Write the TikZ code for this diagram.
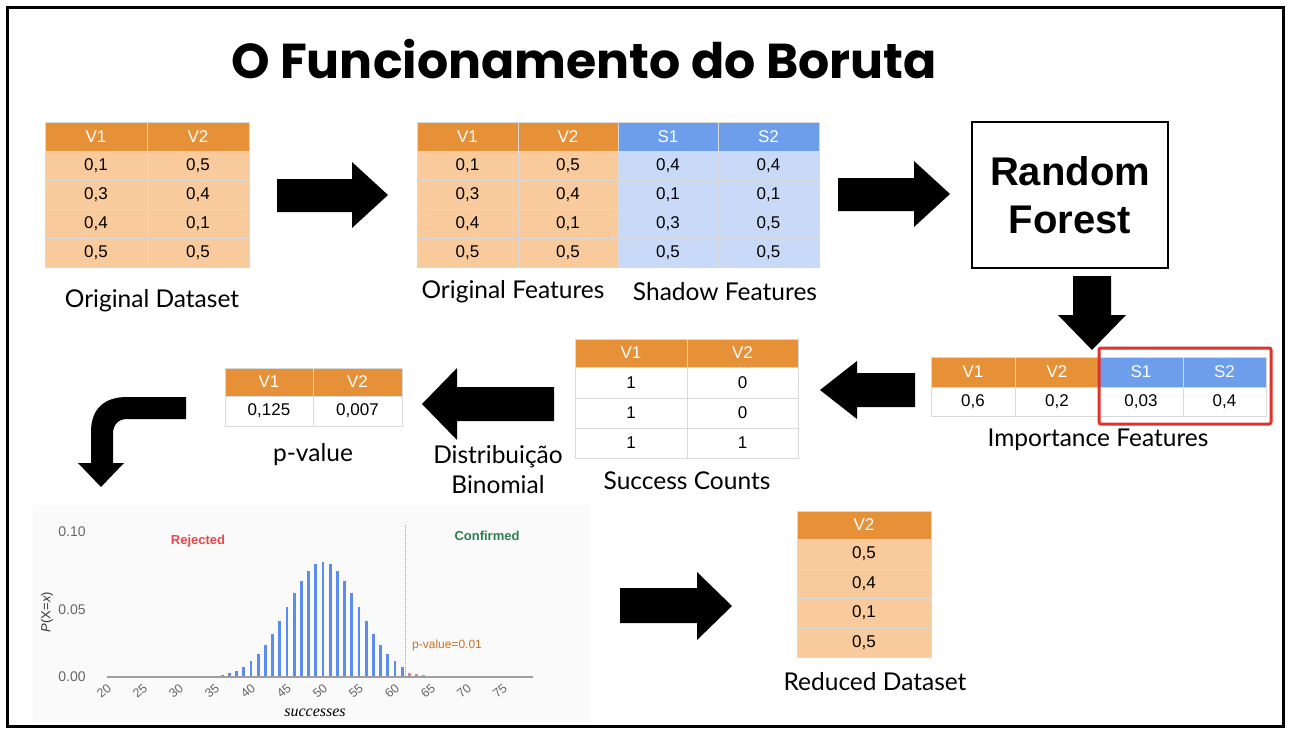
\documentclass[tikz,border=0pt]{standalone}
\usepackage{fontspec}
\setmainfont{Lato}
\newfontfamily\arialf{Liberation Sans}
\newfontfamily\seriff{Liberation Serif}
\newfontfamily\titlef{Poppins}
\definecolor{hdrorange}{HTML}{E69138}
\definecolor{bodyorange}{HTML}{F9CB9C}
\definecolor{hdrblue}{HTML}{6D9EEB}
\definecolor{bodyblue}{HTML}{C9DAF8}
\definecolor{gridc}{HTML}{D9D9D9}
\definecolor{barblue}{HTML}{5B8DEE}
\definecolor{redbox}{HTML}{E0312B}
\definecolor{rejred}{HTML}{E8484A}
\definecolor{confgreen}{HTML}{2E7D4F}
\definecolor{pvorange}{HTML}{C8742A}
\definecolor{axisgray}{HTML}{666666}
\newcommand\tcell[7]{\node[#6, minimum width={(#4-#2)*1pt}, minimum height={(#5-#3)*1pt}] (#1) at ({(#2+#4)/2},{(#3+#5)/2}) {#7};}
\begin{document}
\begin{tikzpicture}[x=1pt,y=-1pt,
  cell/.style={draw=gridc, line width=1pt, inner sep=0pt, outer sep=0pt, font=\arialf\fontsize{17}{19}\selectfont},
  ohead/.style={cell, fill=hdrorange, text=white},
  obody/.style={cell, fill=bodyorange},
  bhead/.style={cell, fill=hdrblue, text=white},
  bbody/.style={cell, fill=bodyblue},
  wbody/.style={cell, fill=white},
  lbl/.style={font=\fontsize{24.5}{30}\selectfont, inner sep=0pt},
  blockarrow/.style={fill=black},
  ticklbl/.style={font=\arialf\fontsize{12.5}{14}\selectfont, text=axisgray, rotate=40, inner sep=0pt},
  ylbl/.style={font=\arialf\fontsize{14}{16}\selectfont, text=axisgray, inner sep=0pt}]
\useasboundingbox (0,0) rectangle (1291,731);
\fill[white] (0,0) rectangle (1291,731);
\draw[line width=3pt] (7,7) rectangle (1283,726);

% title
\node[font=\titlef\bfseries\fontsize{49}{56}\selectfont, inner sep=0pt] (title) at (584,59) {O Funcionamento do Boruta};

% table 1 : original dataset
\tcell{a00}{45}{122}{147}{151}{ohead}{V1}
\tcell{a01}{147}{122}{249}{151}{ohead}{V2}
\tcell{a10}{45}{151}{147}{180}{obody}{0,1}
\tcell{a11}{147}{151}{249}{180}{obody}{0,5}
\tcell{a20}{45}{180}{147}{209}{obody}{0,3}
\tcell{a21}{147}{180}{249}{209}{obody}{0,4}
\tcell{a30}{45}{209}{147}{238}{obody}{0,4}
\tcell{a31}{147}{209}{249}{238}{obody}{0,1}
\tcell{a40}{45}{238}{147}{267}{obody}{0,5}
\tcell{a41}{147}{238}{249}{267}{obody}{0,5}
\node[lbl] (l1) at (152,301) {Original Dataset};

% table 2 : original + shadow
\tcell{b00}{417}{122}{518}{151}{ohead}{V1}
\tcell{b01}{518}{122}{618}{151}{ohead}{V2}
\tcell{b02}{618}{122}{718}{151}{bhead}{S1}
\tcell{b03}{718}{122}{819}{151}{bhead}{S2}
\tcell{b10}{417}{151}{518}{180}{obody}{0,1}
\tcell{b11}{518}{151}{618}{180}{obody}{0,5}
\tcell{b12}{618}{151}{718}{180}{bbody}{0,4}
\tcell{b13}{718}{151}{819}{180}{bbody}{0,4}
\tcell{b20}{417}{180}{518}{209}{obody}{0,3}
\tcell{b21}{518}{180}{618}{209}{obody}{0,4}
\tcell{b22}{618}{180}{718}{209}{bbody}{0,1}
\tcell{b23}{718}{180}{819}{209}{bbody}{0,1}
\tcell{b30}{417}{209}{518}{238}{obody}{0,4}
\tcell{b31}{518}{209}{618}{238}{obody}{0,1}
\tcell{b32}{618}{209}{718}{238}{bbody}{0,3}
\tcell{b33}{718}{209}{819}{238}{bbody}{0,5}
\tcell{b40}{417}{238}{518}{267}{obody}{0,5}
\tcell{b41}{518}{238}{618}{267}{obody}{0,5}
\tcell{b42}{618}{238}{718}{267}{bbody}{0,5}
\tcell{b43}{718}{238}{819}{267}{bbody}{0,5}
\node[lbl] (l2a) at (513,292) {Original Features};
\node[lbl] (l2b) at (725,292) {Shadow Features};

% random forest
\node[draw=black, line width=1.5pt, minimum width=196pt, minimum height=146pt, inner sep=0pt,
      font=\arialf\bfseries\fontsize{40}{48}\selectfont, align=center] (rf) at (1070,195) {Random\\Forest};

% importance table
\tcell{c00}{931}{357}{1015}{387}{ohead}{V1}
\tcell{c01}{1015}{357}{1099}{387}{ohead}{V2}
\tcell{c02}{1099}{357}{1183}{387}{bhead}{S1}
\tcell{c03}{1183}{357}{1266}{387}{bhead}{S2}
\tcell{c10}{931}{387}{1015}{416}{wbody}{0,6}
\tcell{c11}{1015}{387}{1099}{416}{wbody}{0,2}
\tcell{c12}{1099}{387}{1183}{416}{wbody}{0,03}
\tcell{c13}{1183}{387}{1266}{416}{wbody}{0,4}
\draw[redbox, line width=3pt, rounded corners=2pt] (1099,348) rectangle (1271,424);
\node[lbl] (l3) at (1098,440) {Importance Features};

% success counts
\tcell{d00}{575}{339}{687}{367}{ohead}{V1}
\tcell{d01}{687}{339}{798}{367}{ohead}{V2}
\tcell{d10}{575}{367}{687}{398}{wbody}{1}
\tcell{d11}{687}{367}{798}{398}{wbody}{0}
\tcell{d20}{575}{398}{687}{428}{wbody}{1}
\tcell{d21}{687}{398}{798}{428}{wbody}{0}
\tcell{d30}{575}{428}{687}{458}{wbody}{1}
\tcell{d31}{687}{428}{798}{458}{wbody}{1}
\node[lbl] (l4) at (687,481) {Success Counts};

% p-value table
\tcell{e00}{225}{368}{313}{396}{ohead}{V1}
\tcell{e01}{313}{368}{402}{396}{ohead}{V2}
\tcell{e10}{225}{396}{313}{426}{wbody}{0,125}
\tcell{e11}{313}{396}{402}{426}{wbody}{0,007}
\node[lbl] (l5) at (313,455) {p-value};
\node[lbl, align=center] (l6) at (498,470) {Distribuição\\Binomial};

% reduced dataset
\tcell{f0}{797}{511}{931}{539}{ohead}{V2}
\tcell{f1}{797}{539}{931}{569}{obody}{0,5}
\tcell{f2}{797}{569}{931}{598}{obody}{0,4}
\tcell{f3}{797}{598}{931}{628}{obody}{0,1}
\tcell{f4}{797}{628}{931}{657}{obody}{0,5}
\node[lbl] (l7) at (875,682) {Reduced Dataset};

% block arrows
\fill[blockarrow] (277,179)--(352,179)--(352,162)--(388,195)--(352,228)--(352,212)--(277,212)--cycle;
\fill[blockarrow] (838,178)--(914,178)--(914,161)--(950,194)--(914,227)--(914,211)--(838,211)--cycle;
\fill[blockarrow] (1073,276)--(1111,276)--(1111,315)--(1126,315)--(1092,350)--(1058,315)--(1073,315)--cycle;
\fill[blockarrow] (915,373)--(857,373)--(857,361)--(820,390)--(857,419)--(857,407)--(915,407)--cycle;
\fill[blockarrow] (554,387)--(457,387)--(457,368)--(422,404)--(457,440)--(457,421)--(554,421)--cycle;
\fill[blockarrow] (620,588)--(697,588)--(697,572)--(732,606)--(697,640)--(697,623)--(620,623)--cycle;
\fill[blockarrow] (186,397)--(127,397) .. controls (104,397) and (91,409) .. (91,432)
  --(91,463)--(78,463)--(101,487)--(124,463)--(113,463)--(113,434)
  .. controls (113,425) and (118,419) .. (127,419)--(186,419)--cycle;

% chart
\fill[gray!4] (33,505) rectangle (590,722);
\foreach \k in {35,...,61} {
  \fill[barblue] ({323+(\k-50)*7.2-1.4},677) rectangle ({323+(\k-50)*7.2+1.4},{677-115*exp(-((\k-50)^2)/50)});
}
\foreach \k in {62,63,64} {
  \fill[rejred!70] ({323+(\k-50)*7.2-1.4},677) rectangle ({323+(\k-50)*7.2+1.4},{677-80*exp(-((\k-50)^2)/50)});
}
\draw[gray!75, line width=1.5pt] (107,677) -- (533,677);
\draw[hdrorange, line width=1pt, densely dotted] (405,525) -- (405,677);
\foreach \t in {20,25,...,75} {
  \node[ticklbl] (tick\t) at ({323+(\t-50)*7.2-3},691) {\t};
}
\node[ylbl] (y10) at (72,532) {0.10};
\node[ylbl] (y05) at (72,610) {0.05};
\node[ylbl] (y00) at (72,677) {0.00};
\node[font=\arialf\fontsize{13}{15}\selectfont, text=black!80, rotate=90, inner sep=0pt] (ylab) at (47,612) {\textit{P}(X=\textit{x})};
\node[font=\seriff\itshape\fontsize{16}{18}\selectfont, inner sep=0pt] (xlab) at (315,713) {successes};
\node[font=\arialf\bfseries\fontsize{13}{15}\selectfont, text=rejred, inner sep=0pt] (rej) at (198,541) {Rejected};
\node[font=\arialf\bfseries\fontsize{13}{15}\selectfont, text=confgreen, inner sep=0pt] (conf) at (487,536) {Confirmed};
\node[font=\arialf\fontsize{12}{14}\selectfont, text=pvorange, inner sep=0pt, anchor=west] (pv) at (412,645) {p-value=0.01};
\end{tikzpicture}
\end{document}
